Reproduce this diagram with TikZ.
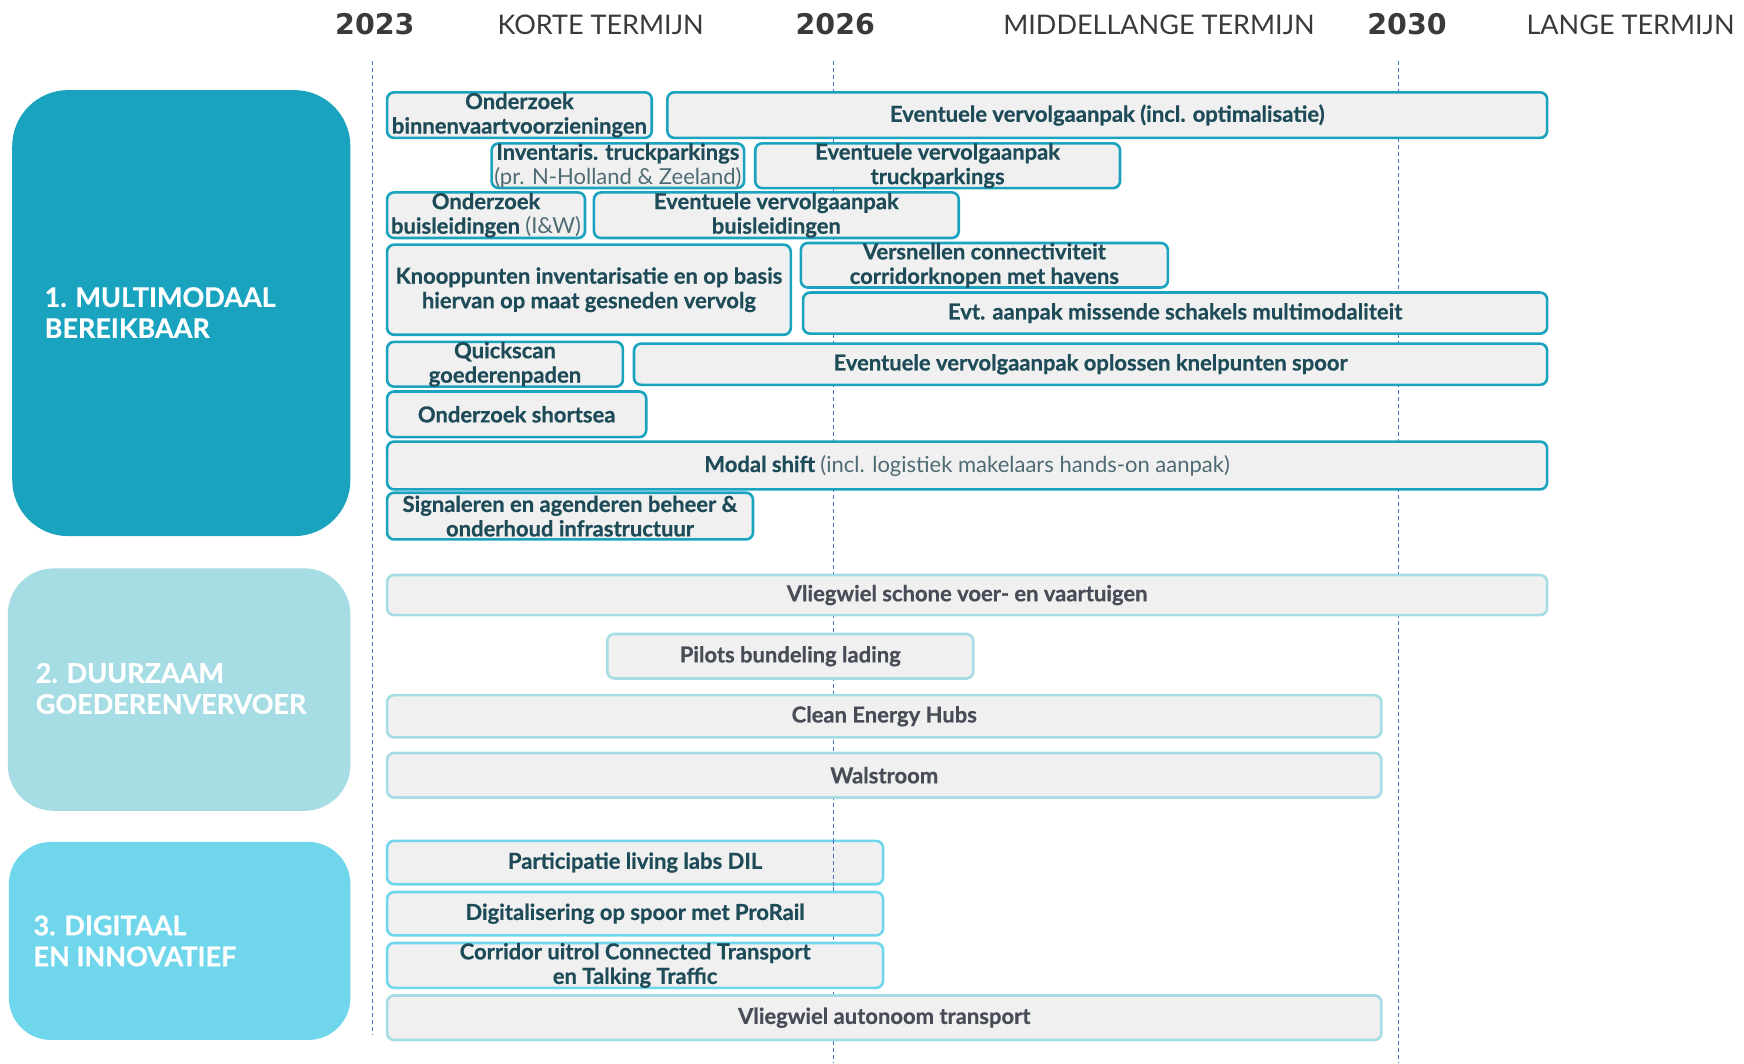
\documentclass[tikz,border=0pt]{standalone}
\usepackage{fontspec}
\setmainfont{Lato}[BoldFeatures={FakeBold=0.6}]
\newfontfamily\yearfont{DejaVu Sans}
\definecolor{teal1}{HTML}{19A3BE}
\definecolor{teal2}{HTML}{A6DCE3}
\definecolor{teal3}{HTML}{70D6EC}
\definecolor{barfill}{HTML}{F0F0F0}
\definecolor{ink1}{HTML}{1D4B58}
\definecolor{ink2}{HTML}{474C57}
\definecolor{inkl}{HTML}{4E6B74}
\definecolor{head}{HTML}{3A3A3A}
\definecolor{grid}{HTML}{4A6FD0}
\tikzset{
  bar/.style={draw, fill=barfill, rounded corners=7pt, line width=2.6pt, inner sep=0pt, align=center,
    font=\fontsize{22}{24.5}\selectfont\bfseries},
  c1/.style={bar, draw=teal1, text=ink1},
  c2/.style={bar, draw=teal2, text=ink2},
  c3/.style={bar, draw=teal3, text=ink1},
  cat/.style={inner sep=0pt, draw=none},
  cattext/.style={anchor=west, align=left, text=white, inner sep=0pt,
    font=\fontsize{27}{31}\selectfont\bfseries},
  year/.style={text=head, inner sep=0pt, font=\yearfont\fontsize{28.5}{29}\selectfont\bfseries},
  term/.style={text=head, inner sep=0pt, font=\fontsize{27}{27}\selectfont},
  gridline/.style={draw=grid, line width=1.1pt, dash pattern=on 4pt off 3pt},
}
% #1 style, #2 name, #3 x1, #4 y1, #5 x2, #6 y2, #7 text
\newcommand\taskbar[7]{%
  \pgfmathsetmacro\tbw{(#5-#3)*1.1122}%
  \pgfmathsetmacro\tbh{(#6-#4)*1.1122}%
  \pgfmathsetmacro\tbx{(#3+#5)/2}%
  \pgfmathsetmacro\tby{(#4+#6)/2}%
  \node[#1, minimum width=\tbw pt, minimum height=\tbh pt] (#2) at (\tbx,\tby) {#7};}
\begin{document}
\begin{tikzpicture}[x=1.1122pt, y=-1.1122pt]
\useasboundingbox (0,0) rectangle (1568,956);
% header
\node[year] (y23) at (337,22) {2023};
\node[term] (kt) at (540,22) {KORTE TERMIJN};
\node[year] (y26) at (751,22) {2026};
\node[term] (mt) at (1042,22) {MIDDELLANGE TERMIJN};
\node[year] (y30) at (1265,22) {2030};
\node[term] (lt) at (1466,22) {LANGE TERMIJN};
% grid lines
\coordinate (g23a) at (335,55); \coordinate (g23b) at (335,930);
\coordinate (g26a) at (749,55); \coordinate (g26b) at (749,956);
\coordinate (g30a) at (1257,55); \coordinate (g30b) at (1257,956);
\draw[gridline] (g23a) -- (g23b);
\draw[gridline] (g26a) -- (g26b);
\draw[gridline] (g30a) -- (g30b);
% categories
\taskbar{cat, fill=teal1, rounded corners=56pt}{cat1}{11}{81}{315}{482}{}
\node[cattext] (cat1t) at (40,281) {1. MULTIMODAAL\\BEREIKBAAR};
\taskbar{cat, fill=teal2, rounded corners=46pt}{cat2}{7}{511}{315}{729}{}
\node[cattext] (cat2t) at (32,619) {2. DUURZAAM\\GOEDERENVERVOER};
\taskbar{cat, fill=teal3, rounded corners=42pt}{cat3}{8}{757}{315}{935}{}
\node[cattext] (cat3t) at (30,846) {3. DIGITAAL\\EN INNOVATIEF};
% category 1 tasks
\taskbar{c1}{t1}{348}{83}{586}{124}{Onderzoek\\binnenvaartvoorzieningen}
\taskbar{c1}{t2}{600}{83}{1391}{124}{Eventuele vervolgaanpak (incl. optimalisatie)}
\taskbar{c1}{t3}{442}{129}{669}{169}{Inventaris. truckparkings\\{\mdseries\color{inkl}(pr. N-Holland \& Zeeland)}}
\taskbar{c1}{t4}{679}{129}{1007}{169}{Eventuele vervolgaanpak\\truckparkings}
\taskbar{c1}{t5}{348}{173}{526}{214}{Onderzoek\\buisleidingen {\mdseries\color{inkl}(I\&W)}}
\taskbar{c1}{t6}{534}{173}{862}{214}{Eventuele vervolgaanpak\\buisleidingen}
\taskbar{c1}{t7}{348}{220}{711}{301}{Knooppunten inventarisatie en op basis\\hiervan op maat gesneden vervolg}
\taskbar{c1}{t8}{720}{219}{1050}{258}{Versnellen connectiviteit\\corridorknopen met havens}
\taskbar{c1}{t9}{722}{263}{1391}{300}{Evt. aanpak missende schakels multimodaliteit}
\taskbar{c1}{t10}{348}{308}{560}{347}{Quickscan\\goederenpaden}
\taskbar{c1}{t11}{570}{309}{1391}{346}{Eventuele vervolgaanpak oplossen knelpunten spoor}
\taskbar{c1}{t12}{348}{352}{581}{393}{Onderzoek shortsea}
\taskbar{c1}{t13}{348}{397}{1391}{440}{Modal shift {\mdseries\color{inkl}(incl. logistiek makelaars hands-on aanpak)}}
\taskbar{c1}{t14}{348}{443}{677}{485}{Signaleren en agenderen beheer \&\\onderhoud infrastructuur}
% category 2 tasks
\taskbar{c2}{d1}{348}{517}{1391}{553}{Vliegwiel schone voer- en vaartuigen}
\taskbar{c2}{d2}{546}{570}{875}{610}{Pilots bundeling lading}
\taskbar{c2}{d3}{348}{625}{1242}{663}{Clean Energy Hubs}
\taskbar{c2}{d4}{348}{677}{1242}{717}{Walstroom}
% category 3 tasks
\taskbar{c3}{e1}{348}{756}{794}{795}{Participatie living labs DIL}
\taskbar{c3}{e2}{348}{802}{794}{841}{Digitalisering op spoor met ProRail}
\taskbar{c3}{e3}{348}{848}{794}{888}{Corridor uitrol Connected Transport\\en Talking Traffic}
\taskbar{c2}{e4}{348}{895}{1242}{935}{Vliegwiel autonoom transport}
\draw[gridline] (e1.north -| g26a) -- (e1.south -| g26a);
\end{tikzpicture}
\end{document}
